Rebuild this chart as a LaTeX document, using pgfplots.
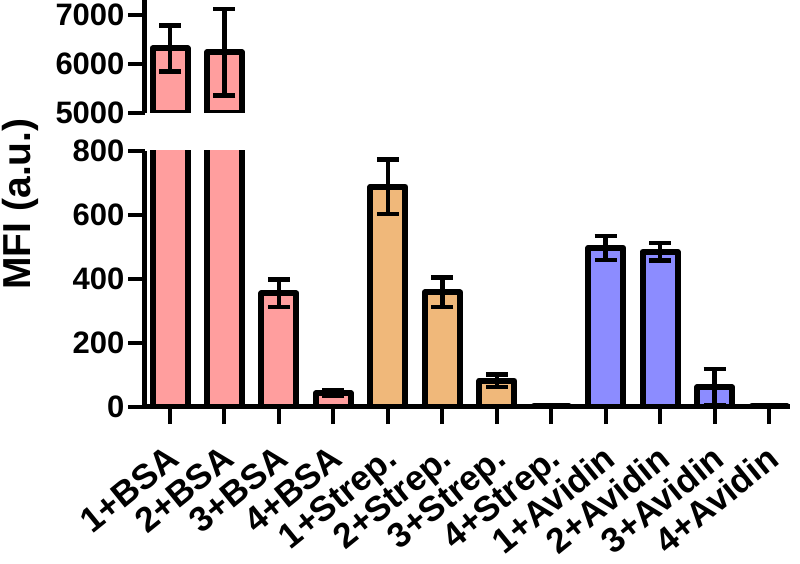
\documentclass[border=0pt]{standalone}
\usepackage{fontspec}
\setmainfont{Liberation Sans}
\usepackage{pgfplots}
\pgfplotsset{compat=1.18}
\definecolor{cpink}{RGB}{255,158,158}
\definecolor{corange}{RGB}{240,184,122}
\definecolor{cblue}{RGB}{140,140,255}
\begin{document}
\begin{tikzpicture}
\useasboundingbox (-145pt,-157pt) rectangle (655pt,407pt);
\pgfplotsset{
 common/.style={
  x=54.45pt, xmin=-0.46, xmax=11.39,
  ybar, bar width=35pt, bar shift=0pt,
  axis y line*=left,
  axis line style={line width=5pt},
  major tick style={line width=4pt, black},
  major tick length=17pt,
  tick align=outside,
  yticklabel style={font=\bfseries\fontsize{31}{36}\selectfont},
  /pgf/number format/assume math mode=true,
  /pgf/number format/1000 sep={},
  scaled y ticks=false,
  error bars/y dir=both, error bars/y explicit,
  error bars/error mark=|,
  error bars/error bar style={line width=4.5pt, black},
  error bars/error mark options={line width=4.5pt, mark size=11pt, black},
 },
 barstyle/.style={draw=black, line width=6pt, fill=#1, line join=round},
}
\begin{axis}[common, y=0.32pt, ymin=0, ymax=800, ytick={0,200,400,600,800},
  axis x line*=bottom,
  xtick={0,...,11},
  xticklabels={1+BSA,2+BSA,3+BSA,4+BSA,1+Strep.,2+Strep.,3+Strep.,4+Strep.,1+Avidin,2+Avidin,3+Avidin,4+Avidin},
  xticklabel style={xshift=-4pt, yshift=-18pt, rotate=39, anchor=north east, font=\bfseries\fontsize{35}{41}\selectfont, inner sep=1pt}]
\addplot[barstyle=cpink] table[x=x,y=y,y error=e] {
x y e
0 6320 470
1 6240 880
2 355 43
3 43 8
};
\addplot[barstyle=corange] table[x=x,y=y,y error=e] {
x y e
4 688 85
5 358 46
6 82 19
7 3 3
};
\addplot[barstyle=cblue] table[x=x,y=y,y error=e] {
x y e
8 497 38
9 485 27
10 62 57
11 3 3
};
\end{axis}
\begin{axis}[common, at={(0pt,294pt)}, y=0.049pt, ymin=5000, ymax=7300, ytick={5000,6000,7000},
  axis x line=none]
\addplot[barstyle=cpink] table[x=x,y=y,y error=e] {
x y e
0 6320 470
1 6240 880
};
\end{axis}
\node[rotate=90, font=\bfseries\fontsize{39}{45}\selectfont] at (-125pt,203pt) {MFI (a.u.)};
\end{tikzpicture}
\end{document}
